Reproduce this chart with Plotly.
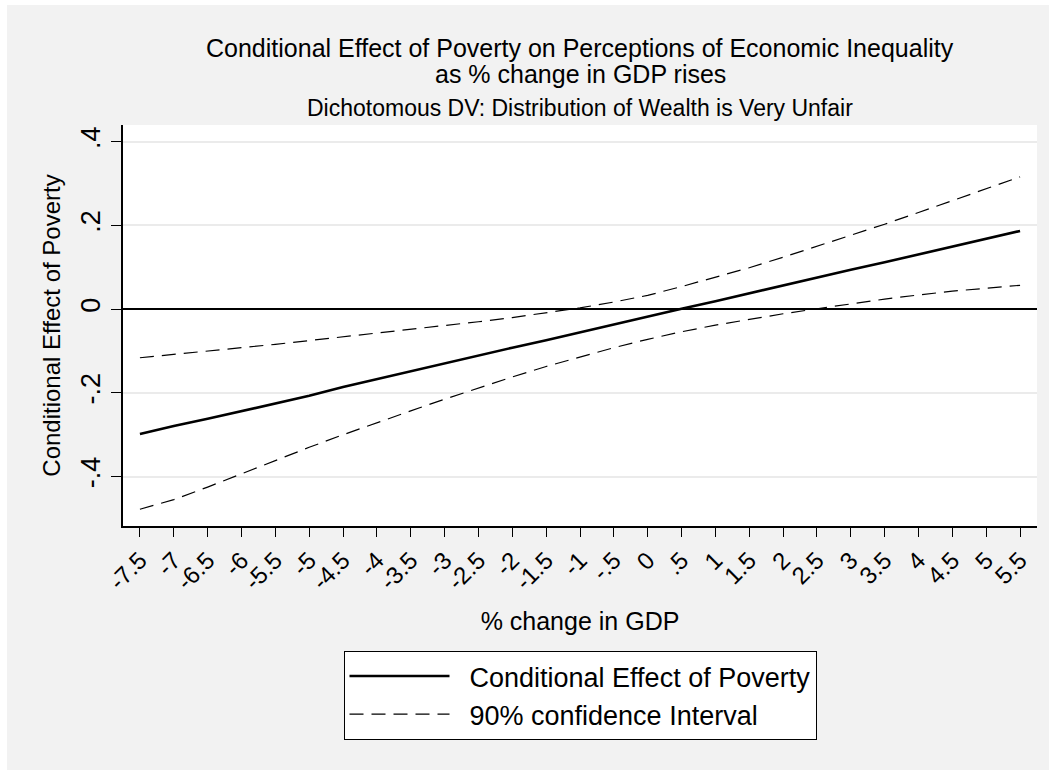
import plotly.graph_objects as go

# % change in GDP at which the conditional effect was evaluated
gdp_change = [-7.5, -7, -6.5, -6, -5.5, -5, -4.5, -4, -3.5, -3, -2.5, -2, -1.5,
              -1, -0.5, 0, 0.5, 1, 1.5, 2, 2.5, 3, 3.5, 4, 4.5, 5, 5.5]

# Conditional effect of poverty (point estimate)
effect = [-0.298, -0.279, -0.262, -0.244, -0.226, -0.207, -0.186, -0.167, -0.149,
          -0.130, -0.111, -0.092, -0.074, -0.055, -0.037, -0.018, 0.001, 0.019,
          0.038, 0.057, 0.075, 0.094, 0.112, 0.131, 0.150, 0.168, 0.187]

# 90% confidence interval bounds
ci_upper = [-0.116, -0.108, -0.100, -0.093, -0.084, -0.075, -0.066, -0.058, -0.049,
            -0.040, -0.030, -0.020, -0.008, 0.003, 0.017, 0.033, 0.054, 0.076,
            0.099, 0.124, 0.150, 0.177, 0.203, 0.231, 0.259, 0.287, 0.316]
ci_lower = [-0.478, -0.455, -0.425, -0.393, -0.361, -0.330, -0.300, -0.271, -0.243,
            -0.215, -0.188, -0.162, -0.137, -0.114, -0.092, -0.072, -0.054, -0.038,
            -0.024, -0.011, 0.001, 0.013, 0.024, 0.034, 0.043, 0.050, 0.057]

x_tick_vals = gdp_change
x_tick_text = ["-7.5", "-7", "-6.5", "-6", "-5.5", "-5", "-4.5", "-4", "-3.5", "-3",
               "-2.5", "-2", "-1.5", "-1", "-.5", "0", ".5", "1", "1.5", "2", "2.5",
               "3", "3.5", "4", "4.5", "5", "5.5"]
y_tick_vals = [-0.4, -0.2, 0, 0.2, 0.4]
y_tick_text = ["-.4", "-.2", "0", ".2", ".4"]

title_lines = ["Conditional Effect of Poverty on Perceptions of Economic Inequality",
               "as % change in GDP rises"]
subtitle = "Dichotomous DV: Distribution of Wealth is Very Unfair"
legend_names = ["Conditional Effect of Poverty", "90% confidence Interval"]

FONT = "Liberation Sans, Arial, sans-serif"
BG = "#f2f2f2"
W, H = 1049, 770
M_L, M_R, M_T, M_B = 123, 12, 125, 244
PLOT_W = W - M_L - M_R
PLOT_H = H - M_T - M_B


def py(pix_y):
    """Paper y coordinate for a pixel row measured from the top of the page."""
    return (H - M_B - pix_y) / PLOT_H


def px(pix_x):
    """Paper x coordinate for a pixel column measured from the left of the page."""
    return (pix_x - M_L) / PLOT_W


dash = "14px,8px"
pad = "\u00a0\u00a0"  # small gap between legend line sample and its label

fig = go.Figure()
fig.add_trace(go.Scatter(
    x=gdp_change, y=effect, mode="lines", name=pad + legend_names[0],
    line=dict(color="black", width=2.6),
))
fig.add_trace(go.Scatter(
    x=gdp_change, y=ci_upper, mode="lines", name=pad + legend_names[1],
    line=dict(color="black", width=1.2, dash=dash),
))
fig.add_trace(go.Scatter(
    x=gdp_change, y=ci_lower, mode="lines", name=pad + legend_names[1],
    line=dict(color="black", width=1.2, dash=dash), showlegend=False,
))

fig.update_layout(
    width=W, height=H,
    margin=dict(l=M_L, r=M_R, t=M_T, b=M_B),
    paper_bgcolor=BG, plot_bgcolor="white",
    font=dict(family=FONT, color="black"),
    showlegend=True,
    legend=dict(
        x=0.5, xanchor="center", y=py(651), yanchor="top",
        bgcolor="white", bordercolor="black", borderwidth=1,
        font=dict(size=27, family=FONT), itemwidth=100,
        tracegroupgap=0,
    ),
    xaxis=dict(
        range=[-7.75, 5.75], tickmode="array", tickvals=x_tick_vals,
        ticktext=x_tick_text, tickangle=-45, ticks="outside", ticklen=9,
        tickcolor="black", tickwidth=1, tickfont=dict(size=24),
        showgrid=False, zeroline=False, showline=True, linecolor="black",
        linewidth=1.5,
        title=dict(text="% change in GDP", font=dict(size=25), standoff=19),
    ),
    yaxis=dict(
        range=[-0.518, 0.44], tickmode="array", tickvals=y_tick_vals,
        ticktext=y_tick_text, tickangle=-90, ticks="outside", ticklen=10,
        tickcolor="black", tickwidth=1, tickfont=dict(size=27),
        showgrid=True, gridcolor="#ebebeb", gridwidth=2,
        zeroline=True, zerolinecolor="black", zerolinewidth=2,
        showline=True, linecolor="black", linewidth=1.5,
        title=dict(text="Conditional Effect of Poverty", font=dict(size=24),
                   standoff=9),
    ),
    shapes=[
        # thin white strips along the top and left page edges
        dict(type="rect", xref="paper", yref="paper", x0=px(0), x1=px(W),
             y0=py(0), y1=py(5), fillcolor="white", line=dict(width=0), layer="below"),
        dict(type="rect", xref="paper", yref="paper", x0=px(0), x1=px(7),
             y0=py(0), y1=py(H), fillcolor="white", line=dict(width=0), layer="below"),
    ],
)

# Title block above the plot area
for text, y_pix, size in [(title_lines[0], 48, 25), (title_lines[1], 74, 25),
                          (subtitle, 108, 23)]:
    fig.add_annotation(
        text=text, xref="paper", yref="paper", x=0.5, y=py(y_pix),
        xanchor="center", yanchor="middle", showarrow=False,
        font=dict(size=size, family=FONT),
    )

fig.write_html("out.html")
